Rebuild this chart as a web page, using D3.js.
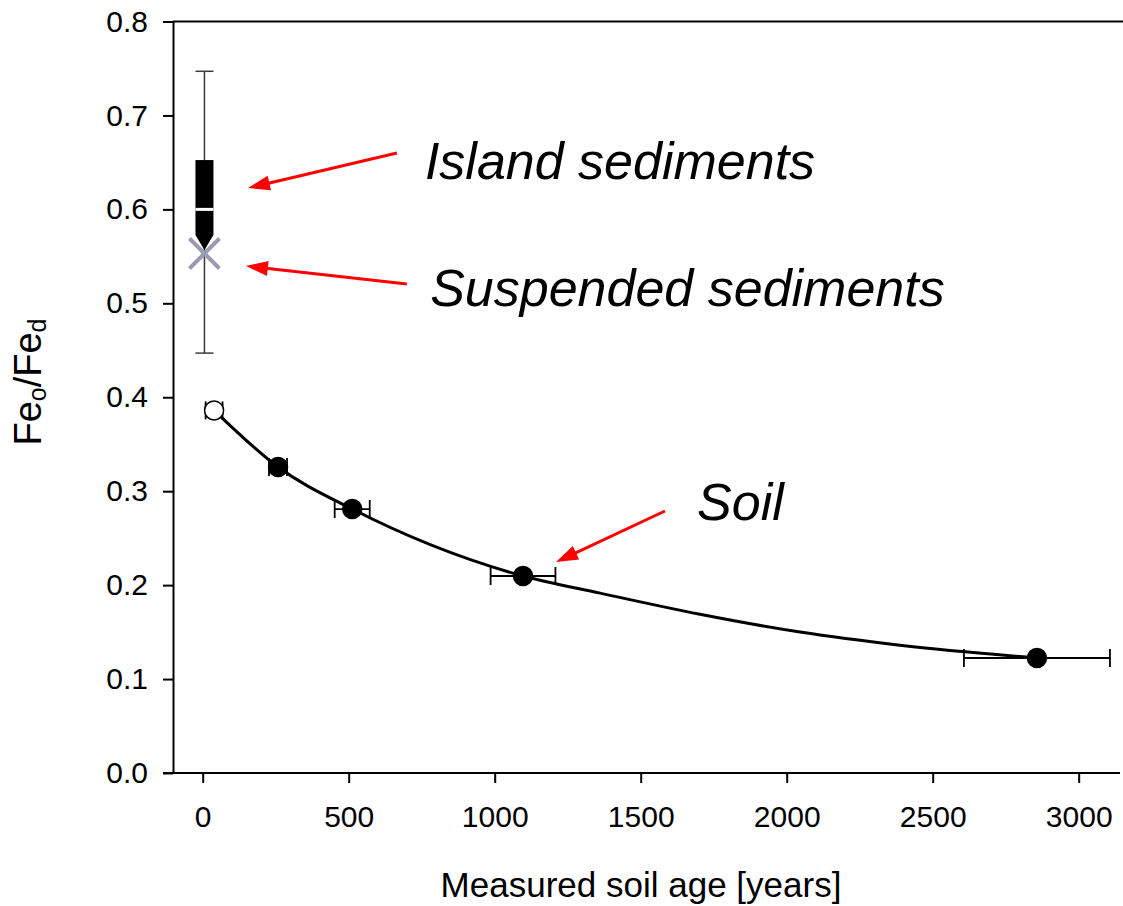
<!DOCTYPE html>
<html>
<head>
<meta charset="utf-8">
<script src="https://cdn.jsdelivr.net/npm/d3@7"></script>
<style>
  body { margin: 0; background: #fff; }
  svg { display: block; }
  text { font-family: "Liberation Sans", Arial, sans-serif; fill: #000; }
</style>
</head>
<body>
<svg id="chart" width="1123" height="906"></svg>
<script>
// Soil chronosequence: Fe_o/Fe_d against measured soil age
const soilAge     = [39, 258, 512, 1097, 2857];
const soilAgeErr  = [29, 31, 60, 111, 250];
const soilRatio   = [0.386, 0.3257, 0.281, 0.2097, 0.1224];
const soilOpen    = [true, false, false, false, false];

// Fitted trend through the soil series
const fitAge   = [39, 258, 512, 1097, 1361, 1703, 2046, 2388, 2857];
const fitRatio = [0.386, 0.3257, 0.281, 0.2097, 0.1915, 0.169, 0.150, 0.136, 0.1224];

// Sediments, plotted at age ~0
const sedAge = 6;
const islandBox = [0.447, 0.5727, 0.600, 0.6525, 0.747]; // whisker low, q1, median, q3, whisker high
const islandMarker = 0.5647;
const suspendedRatio = 0.553;

// Axis ticks
const xTicks = [0, 500, 1000, 1500, 2000, 2500, 3000];
const yTicks = [0.0, 0.1, 0.2, 0.3, 0.4, 0.5, 0.6, 0.7, 0.8];

// Annotation labels (data units) and their arrows
const noteText = ["Island sediments", "Suspended sediments", "Soil"];
const notePos  = [[761, 0.632], [779, 0.497], [1693, 0.2693]];
const arrowFrom = [[665, 0.660], [699, 0.5205], [1583, 0.2789]];
const arrowTo   = [[155, 0.6227], [148, 0.5397], [1210, 0.2246]];

const svg = d3.select("#chart");
const x = d3.scaleLinear().domain([0, 3000]).range([202.7, 1078.7]);
const y = d3.scaleLinear().domain([0, 0.8]).range([773, 21.5]);
const axisLeftX = 173, axisBottomY = 773;

// frame top line
svg.append("line")
  .attr("x1", axisLeftX).attr("x2", 1123)
  .attr("y1", y(0.8)).attr("y2", y(0.8))
  .attr("stroke", "#000").attr("stroke-width", 2);

// y axis
const gy = svg.append("g")
  .attr("transform", `translate(${axisLeftX},0)`)
  .call(d3.axisLeft(y).tickValues(yTicks).tickFormat(d3.format(".1f"))
        .tickSize(10).tickSizeOuter(0).tickPadding(15));
gy.select(".domain").attr("stroke-width", 2);
gy.selectAll(".tick line").attr("stroke-width", 2);
gy.selectAll(".tick text").attr("font-size", 30).attr("font-family", "Liberation Sans, Arial, sans-serif");

// x axis
const gx = svg.append("g")
  .attr("transform", `translate(0,${axisBottomY})`)
  .call(d3.axisBottom(x).tickValues(xTicks).tickFormat(d3.format("d"))
        .tickSize(10).tickSizeOuter(0).tickPadding(23));
gx.select(".domain").remove();
gx.selectAll(".tick line").attr("stroke-width", 2);
gx.selectAll(".tick text").attr("font-size", 30).attr("font-family", "Liberation Sans, Arial, sans-serif");
svg.append("line")
  .attr("x1", 163).attr("x2", 1120)
  .attr("y1", axisBottomY).attr("y2", axisBottomY)
  .attr("stroke", "#000").attr("stroke-width", 2);

// axis titles
svg.append("text")
  .attr("x", 641).attr("y", 897)
  .attr("text-anchor", "middle").attr("font-size", 35)
  .text("Measured soil age [years]");

const yl = svg.append("text")
  .attr("transform", "translate(41,382) rotate(-90)")
  .attr("text-anchor", "middle").attr("font-size", 38);
yl.append("tspan").text("Fe");
yl.append("tspan").attr("font-size", 25).attr("dy", 5).text("o");
yl.append("tspan").attr("dy", -5).text("/Fe");
yl.append("tspan").attr("font-size", 25).attr("dy", 5).text("d");

// island sediment whiskers
const sx = x(sedAge);
const capW = 9;
const eb = svg.append("g").attr("stroke", "#3a3a3a").attr("stroke-width", 1.5);
eb.append("line").attr("x1", sx).attr("x2", sx).attr("y1", y(islandBox[0])).attr("y2", y(islandBox[4]));
[islandBox[0], islandBox[4]].forEach(v => {
  eb.append("line").attr("x1", sx - capW).attr("x2", sx + capW).attr("y1", y(v)).attr("y2", y(v));
});

// island sediment box with median
svg.append("rect")
  .attr("x", sx - 9).attr("width", 18)
  .attr("y", y(islandBox[3])).attr("height", y(islandBox[1]) - y(islandBox[3]))
  .attr("fill", "#000");
svg.append("line")
  .attr("x1", sx - 9).attr("x2", sx + 9)
  .attr("y1", y(islandBox[2])).attr("y2", y(islandBox[2]))
  .attr("stroke", "#fff").attr("stroke-width", 3);

// island sediment marker (down triangle)
const ty = y(islandMarker);
svg.append("path")
  .attr("d", `M${sx - 9},${ty - 7.5}L${sx + 9},${ty - 7.5}L${sx},${ty + 7.5}Z`)
  .attr("fill", "#000");

// suspended sediment (cross)
const cy = y(suspendedRatio), cr = 15;
svg.append("path")
  .attr("d", `M${sx - cr},${cy - cr}L${sx + cr},${cy + cr}M${sx - cr},${cy + cr}L${sx + cr},${cy - cr}`)
  .attr("stroke", "#9a9ab4").attr("stroke-width", 4).attr("fill", "none");

// fitted curve
const fitData = fitAge.map((a, i) => [a, fitRatio[i]]);
svg.append("path")
  .datum(fitData)
  .attr("d", d3.line().x(d => x(d[0])).y(d => y(d[1])).curve(d3.curveMonotoneX))
  .attr("fill", "none").attr("stroke", "#000").attr("stroke-width", 3);

// soil horizontal error bars
const soil = soilAge.map((a, i) => ({ age: a, err: soilAgeErr[i], r: soilRatio[i], open: soilOpen[i] }));
const seb = svg.append("g").attr("stroke", "#000").attr("stroke-width", 1.8);
soil.forEach(d => {
  const yy = y(d.r);
  seb.append("line").attr("x1", x(d.age - d.err)).attr("x2", x(d.age + d.err)).attr("y1", yy).attr("y2", yy);
  [d.age - d.err, d.age + d.err].forEach(v => {
    seb.append("line").attr("x1", x(v)).attr("x2", x(v)).attr("y1", yy - 9).attr("y2", yy + 9);
  });
});

// soil points
svg.append("g").selectAll("circle").data(soil).join("circle")
  .attr("cx", d => x(d.age)).attr("cy", d => y(d.r)).attr("r", 9.5)
  .attr("fill", d => d.open ? "#fff" : "#000")
  .attr("stroke", "#000").attr("stroke-width", 1.5);

// annotations
const red = "#ff0000";
noteText.forEach((t, i) => {
  svg.append("text")
    .attr("x", x(notePos[i][0])).attr("y", y(notePos[i][1]))
    .attr("font-size", 52).attr("font-style", "italic")
    .text(t);

  const x0 = x(arrowFrom[i][0]), y0 = y(arrowFrom[i][1]);
  const x1 = x(arrowTo[i][0]), y1 = y(arrowTo[i][1]);
  const ang = Math.atan2(y1 - y0, x1 - x0);
  const hl = 22, hw = 7.5;
  const bx = x1 - hl * Math.cos(ang), by = y1 - hl * Math.sin(ang);
  svg.append("line")
    .attr("x1", x0).attr("y1", y0).attr("x2", bx + 2 * Math.cos(ang)).attr("y2", by + 2 * Math.sin(ang))
    .attr("stroke", red).attr("stroke-width", 3);
  const px = -Math.sin(ang), py = Math.cos(ang);
  svg.append("path")
    .attr("d", `M${x1},${y1}L${bx + hw * px},${by + hw * py}L${bx - hw * px},${by - hw * py}Z`)
    .attr("fill", red);
});
</script>
</body>
</html>
